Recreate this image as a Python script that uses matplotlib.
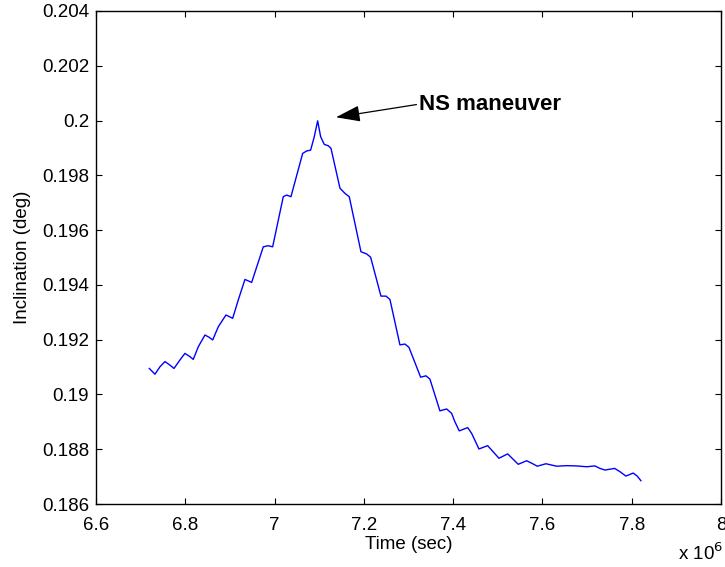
import matplotlib
matplotlib.use("Agg")
import matplotlib.pyplot as plt
from matplotlib.ticker import FormatStrFormatter

plt.rcParams['font.family'] = ['Liberation Sans', 'DejaVu Sans']

# time in units of 1e6 sec, inclination in deg
time_e6 = [6.7194, 6.7321, 6.7433, 6.7545, 6.7657, 6.7747, 6.7881, 6.7993,
           6.8105, 6.8179, 6.8291, 6.8441, 6.8531, 6.8614, 6.8739, 6.8911,
           6.8963, 6.9062, 6.9187, 6.9337, 6.9487, 6.9747, 6.9859, 6.9957,
           7.0195, 7.0271, 7.0367, 7.0629, 7.0719, 7.0808, 7.0889, 7.0965,
           7.1032, 7.1113, 7.1202, 7.1263, 7.1465, 7.1577, 7.1673, 7.1935,
           7.2063, 7.2152, 7.2383, 7.2495, 7.2584, 7.2808, 7.2920, 7.3010,
           7.3272, 7.3391, 7.3480, 7.3704, 7.3854, 7.3966, 7.4040, 7.4137,
           7.4325, 7.4414, 7.4578, 7.4773, 7.4862, 7.5026, 7.5221, 7.5346,
           7.5458, 7.5646, 7.5794, 7.5883, 7.6078, 7.6318, 7.6542, 7.6766,
           7.6990, 7.7176, 7.7288, 7.7400, 7.7617, 7.7736, 7.7870, 7.8033,
           7.8123, 7.8206]
incl = [0.19095, 0.19074, 0.19101, 0.19120, 0.19107, 0.19095, 0.19126, 0.19150,
        0.19138, 0.19128, 0.19174, 0.19217, 0.19209, 0.19199, 0.19247, 0.19290,
        0.19286, 0.19278, 0.19345, 0.19420, 0.19409, 0.19539, 0.19543, 0.19539,
        0.19722, 0.19728, 0.19722, 0.19880, 0.19889, 0.19892, 0.19941, 0.19999,
        0.19941, 0.19913, 0.19908, 0.19899, 0.19753, 0.19734, 0.19722, 0.19521,
        0.19513, 0.19501, 0.19359, 0.19359, 0.19347, 0.19181, 0.19184, 0.19172,
        0.19063, 0.19068, 0.19056, 0.18940, 0.18947, 0.18931, 0.18900, 0.18867,
        0.18879, 0.18858, 0.18801, 0.18813, 0.18797, 0.18767, 0.18783, 0.18763,
        0.18745, 0.18758, 0.18746, 0.18738, 0.18747, 0.18738, 0.18740, 0.18739,
        0.18736, 0.18739, 0.18730, 0.18724, 0.18730, 0.18718, 0.18702, 0.18713,
        0.18702, 0.18685]

x_ticks = [6.6, 6.8, 7.0, 7.2, 7.4, 7.6, 7.8, 8.0]
y_ticks = [0.186, 0.188, 0.19, 0.192, 0.194, 0.196, 0.198, 0.2, 0.202, 0.204]

fig = plt.figure(figsize=(7.25, 5.67), dpi=100)
ax = fig.add_axes([0.1324, 0.1111, 0.8621, 0.8695])

ax.plot(time_e6, incl, color='#0000ff', lw=1.0)

ax.set_xlim(6.6, 8.0)
ax.set_ylim(0.186, 0.204)
ax.set_xticks(x_ticks)
ax.set_yticks(y_ticks)
ax.xaxis.set_major_formatter(FormatStrFormatter('%g'))
ax.yaxis.set_major_formatter(FormatStrFormatter('%g'))
ax.tick_params(direction='in', length=4.5, width=0.8, labelsize=13.5,
               top=True, right=True)
ax.tick_params(axis='x', pad=9)
ax.tick_params(axis='y', pad=5)
for s in ax.spines.values():
    s.set_linewidth(1.0)

ax.set_xlabel('Time (sec)', fontsize=13.5, labelpad=2)
ax.set_ylabel('Inclination (deg)', fontsize=13.5, labelpad=8)

# the little MATLAB exponent under the axis
ax.text(0.931, -0.099, r'x 10$^6$', transform=ax.transAxes, fontsize=13.5,
        ha='left', va='center')

ax.annotate('NS maneuver', xy=(7.1375, 0.20012), xytext=(7.324, 0.2006),
            fontsize=16, fontweight='bold', ha='left', va='center',
            arrowprops=dict(arrowstyle='-|>,head_length=0.75,head_width=0.25',
                            color='black', lw=0.9, shrinkA=0, shrinkB=0,
                            mutation_scale=20, relpos=(0, 0.5)))

fig.savefig('out.png', dpi=100)
